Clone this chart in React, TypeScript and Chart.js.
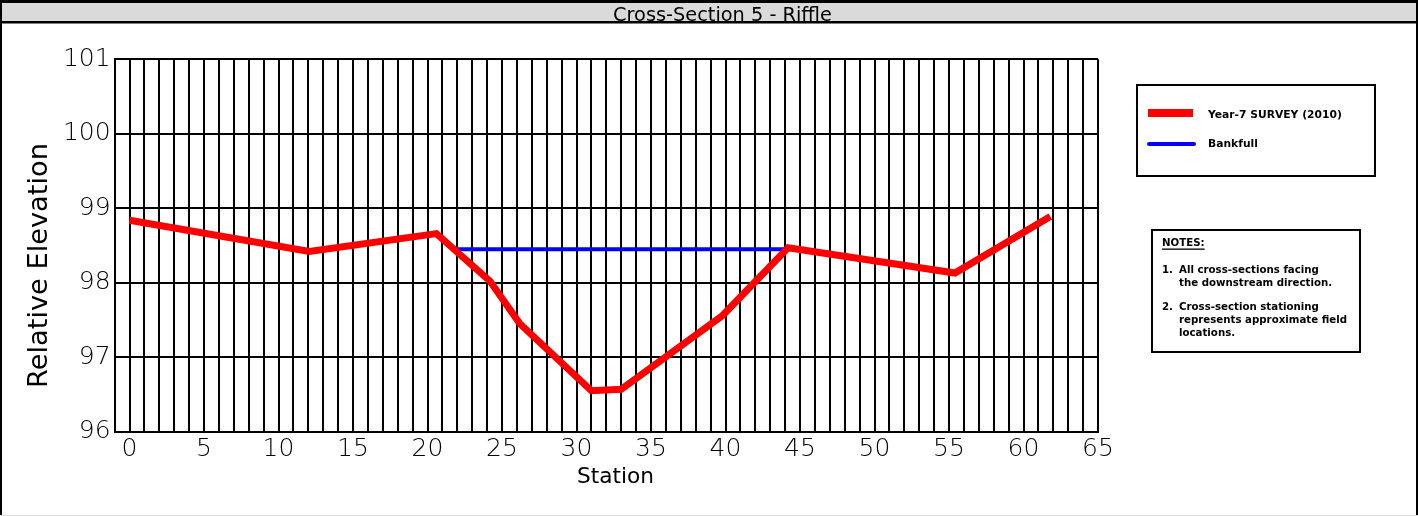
import React, { useEffect, useRef } from "react";
import { Chart, registerables } from "chart.js";

Chart.register(...registerables);

const TITLE = "Cross-Section 5 - Riffle";
const X_TITLE = "Station";
const Y_TITLE = "Relative Elevation";

const surveyStations = [0, 12.07, 20.6, 24.2, 26.2, 31.0, 33.0, 39.8, 44.2, 55.4, 61.8];
const surveyElevations = [98.84, 98.42, 98.66, 98.02, 97.45, 96.55, 96.57, 97.56, 98.47, 98.13, 98.89];

const bankfullStations = [21.6, 44.2];
const bankfullElevations = [98.45, 98.45];

const SURVEY_LABEL = "Year-7 SURVEY (2010)";
const BANKFULL_LABEL = "Bankfull";

const NOTES_HEADER = "NOTES:";
const NOTES = [
  ["1.", "All cross-sections facing", "the downstream direction."],
  ["2.", "Cross-section stationing", "represents approximate field", "locations."],
];

const X_MIN = -1;
const X_MAX = 65;
const Y_MIN = 96;
const Y_MAX = 101;

const W = 1418;
const H = 516;

function fitFont(ctx: CanvasRenderingContext2D, text: string, target: number, weight: string, family: string, base: number) {
  ctx.font = `${weight} ${base}px ${family}`;
  const w = ctx.measureText(text).width;
  const size = (base * target) / w;
  ctx.font = `${weight} ${size}px ${family}`;
  return size;
}

const decorPlugin = {
  id: "decor",
  beforeDraw(chart: any) {
    const ctx = chart.ctx as CanvasRenderingContext2D;
    ctx.save();
    ctx.fillStyle = "#ffffff";
    ctx.fillRect(0, 0, W, H);
    // title bar
    ctx.fillStyle = "#dadada";
    ctx.fillRect(0, 0, W, 23);
    ctx.fillStyle = "#000";
    ctx.fillRect(0, 0, W, 3);
    ctx.fillRect(0, 21, W, 2.5);
    // frame
    ctx.fillRect(0, 0, 2, H);
    ctx.fillRect(W - 2, 0, 2, H);
    ctx.fillStyle = "#d8d8d8";
    ctx.fillRect(0, H - 1, W, 1);
    ctx.restore();
  },
  afterDraw(chart: any) {
    const ctx = chart.ctx as CanvasRenderingContext2D;
    ctx.save();
    ctx.fillStyle = "#000";
    // title
    ctx.textAlign = "center";
    ctx.textBaseline = "alphabetic";
    fitFont(ctx, TITLE, 219, "400", "'DejaVu Sans'", 15);
    ctx.fillText(TITLE, 722.5, 20.5);

    // axis titles
    ctx.textBaseline = "middle";
    fitFont(ctx, X_TITLE, 77, "400", "'DejaVu Sans'", 22);
    ctx.fillText(X_TITLE, 615.5, 477);
    ctx.save();
    ctx.translate(40, 265.5);
    ctx.rotate(-Math.PI / 2);
    fitFont(ctx, Y_TITLE, 245, "400", "'DejaVu Sans'", 26);
    ctx.fillText(Y_TITLE, 0, 0);
    ctx.restore();

    // legend box
    ctx.lineWidth = 2;
    ctx.strokeStyle = "#000";
    ctx.strokeRect(1137, 85, 238, 91);
    const ds = chart.data.datasets;
    ctx.fillStyle = ds[0].borderColor;
    ctx.fillRect(1148, 109, 45, 8);
    ctx.strokeStyle = ds[1].borderColor;
    ctx.lineWidth = 4;
    ctx.lineCap = "round";
    ctx.beginPath();
    ctx.moveTo(1149, 144);
    ctx.lineTo(1194, 144);
    ctx.stroke();
    ctx.fillStyle = "#000";
    ctx.textAlign = "left";
    ctx.textBaseline = "middle";
    const ls = fitFont(ctx, ds[0].label, 134, "700", "'DejaVu Sans'", 11);
    ctx.fillText(ds[0].label, 1208, 115);
    ctx.font = `700 ${ls}px 'DejaVu Sans'`;
    ctx.fillText(ds[1].label, 1208, 144);

    // notes box
    ctx.lineWidth = 2;
    ctx.lineCap = "butt";
    ctx.strokeStyle = "#000";
    ctx.strokeRect(1152, 230, 208, 122);
    const size = fitFont(ctx, NOTES[0][1], 140, "700", "'DejaVu Sans'", 10.5);
    ctx.font = `700 ${size}px 'DejaVu Sans'`;
    ctx.fillText(NOTES_HEADER, 1162, 243);
    const hw = ctx.measureText(NOTES_HEADER).width;
    ctx.fillRect(1162, 248.5, hw, 1.3);
    const rows = [270, 283, 307, 320, 333];
    let r = 0;
    NOTES.forEach((n) => {
      ctx.fillText(n[0], 1162, rows[r]);
      for (let i = 1; i < n.length; i++) {
        ctx.fillText(n[i], 1179, rows[r]);
        r++;
      }
    });
    ctx.restore();
  },
};

export default function App() {
  const ref = useRef<HTMLCanvasElement>(null);
  useEffect(() => {
    const canvas = ref.current!;
    const chart = new Chart(canvas, {
      type: "line",
      data: {
        datasets: [
          {
            label: SURVEY_LABEL,
            data: surveyStations.map((x, i) => ({ x, y: surveyElevations[i] })),
            borderColor: "#ff0000",
            borderWidth: 7,
            pointRadius: 0,
            borderJoinStyle: "miter",
            tension: 0,
          },
          {
            label: BANKFULL_LABEL,
            data: bankfullStations.map((x, i) => ({ x, y: bankfullElevations[i] })),
            borderColor: "#0000ff",
            borderWidth: 4,
            pointRadius: 0,
            tension: 0,
          },
        ],
      },
      plugins: [decorPlugin],
      options: {
        animation: false,
        responsive: false,
        maintainAspectRatio: false,
        events: [],
        layout: { padding: { left: 0, top: 59.3, right: W - 1098, bottom: 0 } },
        plugins: { legend: { display: false }, tooltip: { enabled: false }, title: { display: false } },
        scales: {
          x: {
            type: "linear",
            min: X_MIN,
            max: X_MAX,
            afterFit: (s: any) => {
              s.height = H - 431.7;
            },
            afterBuildTicks: (s: any) => {
              const t = [];
              for (let v = X_MIN; v <= X_MAX; v++) t.push({ value: v });
              s.ticks = t;
            },
            grid: { color: "#000", lineWidth: 2, drawTicks: false },
            border: { color: "#000", width: 2 },
            ticks: {
              autoSkip: false,
              maxRotation: 0,
              padding: 3,
              color: "#000",
              font: { family: "'DejaVu Sans'", size: 25, weight: "200" },
              callback: (v: any) => (Number(v) % 5 === 0 ? String(v) : ""),
            },
          },
          y: {
            type: "linear",
            min: Y_MIN,
            max: Y_MAX,
            afterFit: (s: any) => {
              s.width = 114.6;
            },
            grid: { color: "#000", lineWidth: 2, drawTicks: false },
            border: { color: "#000", width: 2 },
            ticks: {
              stepSize: 1,
              padding: 4,
              color: "#000",
              font: { family: "'DejaVu Sans'", size: 25, weight: "200" },
            },
          },
        },
      },
    } as any);
    return () => chart.destroy();
  }, []);
  return (
    <div style={{ position: "fixed", left: 0, top: 0, width: W, height: H }}>
      <canvas ref={ref} width={W} height={H} style={{ width: W, height: H, display: "block" }} />
    </div>
  );
}
